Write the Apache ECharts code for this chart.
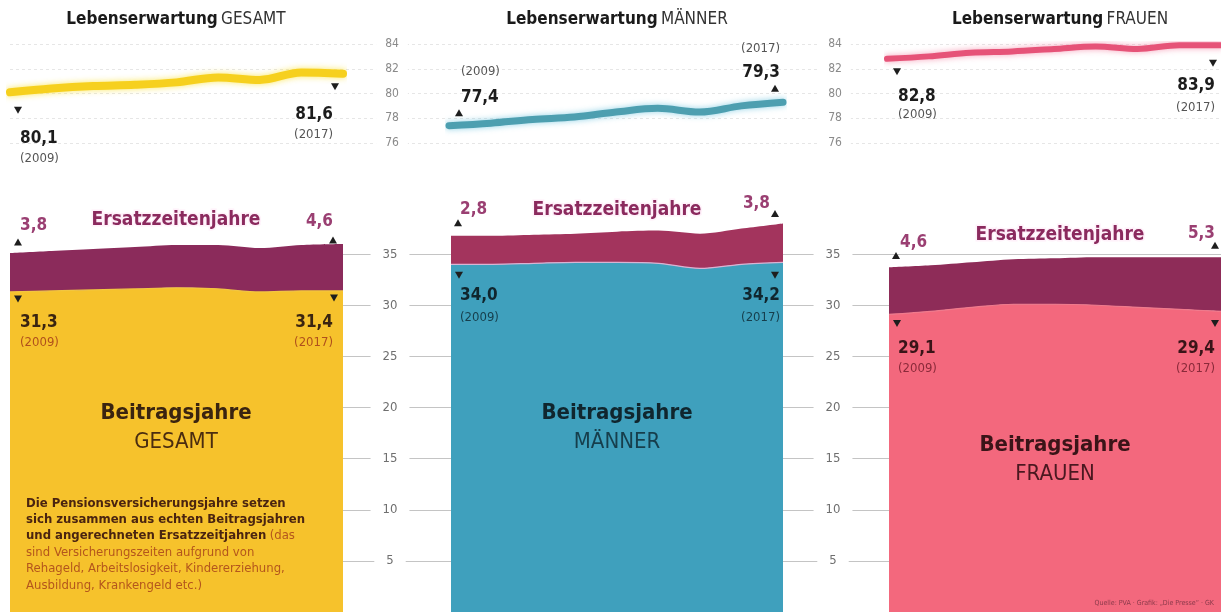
<!DOCTYPE html>
<html>
<head>
<meta charset="utf-8">
<script src="https://cdn.jsdelivr.net/npm/echarts@6/dist/echarts.min.js"></script>
<style>
  html, body { margin: 0; padding: 0; background: #fff; }
  #main { width: 1221px; height: 612px; }
</style>
</head>
<body>
<div id="main"></div>
<script>
const FONT = "'Liberation Sans Narrow', 'DejaVu Sans Condensed', 'Roboto', sans-serif";

// --- data ---
const years = ['2009', '2010', '2011', '2012', '2013', '2014', '2015', '2016', '2017'];
const lifeGesamt = [80.1, 80.4, 80.6, 80.7, 80.9, 81.3, 81.1, 81.7, 81.6];
const lifeMaenner = [77.4, 77.6, 77.9, 78.1, 78.5, 78.8, 78.5, 79.0, 79.3];
const lifeFrauen = [82.8, 83.0, 83.3, 83.4, 83.6, 83.8, 83.6, 83.9, 83.9];
const beitragGesamt = [31.3, 31.4, 31.5, 31.6, 31.7, 31.6, 31.3, 31.4, 31.4];
const ersatzGesamt = [3.8, 3.9, 4.0, 4.1, 4.2, 4.3, 4.3, 4.5, 4.6];
const beitragMaenner = [34.0, 34.0, 34.1, 34.2, 34.2, 34.1, 33.6, 34.0, 34.2];
const ersatzMaenner = [2.8, 2.8, 2.8, 2.8, 3.0, 3.2, 3.4, 3.5, 3.8];
const beitragFrauen = [29.1, 29.4, 29.8, 30.1, 30.1, 30.0, 29.8, 29.6, 29.4];
const ersatzFrauen = [4.6, 4.5, 4.4, 4.4, 4.5, 4.7, 4.9, 5.1, 5.3];
const lifeTicks = { min: 76, max: 84, step: 2 };
const yearsTicks = { min: 0, max: 40, step: 5 };
const groups = ['GESAMT', 'MÄNNER', 'FRAUEN'];

// --- layout / styles per panel ---
const panels = [
  { name: groups[0], life: lifeGesamt, beitrag: beitragGesamt, ersatz: ersatzGesamt,
    left: 10, width: 333, topLeft: 10, line: '#f6d01e', lineW: 8, glow: 'rgba(250,228,70,0.85)',
    fill: '#f6c22c', top: '#8b2b5b', edge: '#f2c640',
    valColor: '#3a2410', yrColor: '#b0501c', labelMargin: null },
  { name: groups[1], life: lifeMaenner, beitrag: beitragMaenner, ersatz: ersatzMaenner,
    left: 451, width: 332, topLeft: 449, line: '#4d9fb0', lineW: 7, glow: 'rgba(120,200,225,0.8)',
    fill: '#3fa0bd', top: '#a3345d', edge: '#d9b3d3',
    valColor: '#10262e', yrColor: '#163e4c', labelMargin: 392 },
  { name: groups[2], life: lifeFrauen, beitrag: beitragFrauen, ersatz: ersatzFrauen,
    left: 889, width: 332, topLeft: 887, line: '#e65378', lineW: 6, glow: 'rgba(245,140,170,0.8)',
    fill: '#f3687d', top: '#8e2c58', edge: '#f07a8c',
    valColor: '#3a1418', yrColor: '#8a2a3a', labelMargin: 835 }
];

const TOP_Y = 44, TOP_H = 99;
const BOT_TOP = 203;

const chart = echarts.init(document.getElementById('main'), null, { renderer: 'canvas' });

const grid = [], xAxis = [], yAxis = [], series = [];

panels.forEach((p) => {
  grid.push({ left: p.topLeft, width: Math.min(p.width + (p.left - p.topLeft), 1221 - p.topLeft), top: TOP_Y, height: TOP_H });
});
panels.forEach((p) => {
  grid.push({ left: p.left, width: Math.min(p.width, 1221 - p.left), top: BOT_TOP, bottom: 0 });
});
grid.push({ left: 10, right: 0, top: TOP_Y, height: TOP_H });   // 6: top gridlines
grid.push({ left: 343, right: 0, top: BOT_TOP, bottom: 0 });     // 7: bottom gridlines

const hiddenX = (gi) => ({
  gridIndex: gi, type: 'category', data: years, boundaryGap: false, show: false
});

panels.forEach((p, k) => {
  xAxis.push(hiddenX(k));
  yAxis.push({
    gridIndex: k, type: 'value', min: lifeTicks.min, max: lifeTicks.max, interval: lifeTicks.step,
    z: 1, splitLine: { show: false }, axisLine: { show: false }, axisTick: { show: false },
    axisLabel: {
      show: p.labelMargin !== null, margin: p.labelMargin !== null ? p.topLeft - p.labelMargin : 8,
      align: 'center', color: '#8a8a8a', fontFamily: FONT, fontSize: 12,
      backgroundColor: '#fff', padding: [2, 9]
    }
  });
});
panels.forEach((p, k) => {
  xAxis.push(hiddenX(3 + k));
  yAxis.push({
    gridIndex: 3 + k, type: 'value', min: yearsTicks.min, max: yearsTicks.max, interval: yearsTicks.step,
    z: 1, splitLine: { show: false }, axisLine: { show: false }, axisTick: { show: false },
    axisLabel: {
      show: p.labelMargin !== null, margin: p.labelMargin !== null ? p.left - p.labelMargin + 2 : 8,
      showMinLabel: false, showMaxLabel: false,
      align: 'center', color: '#6f6f6f', fontFamily: FONT, fontSize: 13,
      backgroundColor: '#fff', padding: [2, 12]
    }
  });
});
xAxis.push({ gridIndex: 6, type: 'value', show: false });
yAxis.push({
  gridIndex: 6, type: 'value', min: lifeTicks.min, max: lifeTicks.max, interval: lifeTicks.step, z: 0,
  axisLine: { show: false }, axisTick: { show: false }, axisLabel: { show: false },
  splitLine: { lineStyle: { color: '#e6e6e6', type: [3, 3], width: 1 } }
});
xAxis.push({ gridIndex: 7, type: 'value', show: false });
yAxis.push({
  gridIndex: 7, type: 'value', min: yearsTicks.min, max: yearsTicks.max, interval: yearsTicks.step, z: 0,
  axisLine: { show: false }, axisTick: { show: false }, axisLabel: { show: false },
  splitLine: { showMinLine: false, showMaxLine: false, lineStyle: { color: '#c4c4c4', width: 1 } }
});

panels.forEach((p, k) => {
  series.push({
    name: 'Lebenserwartung ' + p.name, type: 'line', xAxisIndex: k, yAxisIndex: k,
    data: p.life, smooth: 0.35, symbol: 'none', z: 3,
    lineStyle: { color: p.line, width: p.lineW, shadowBlur: 6, shadowColor: p.glow, cap: 'round' }
  });
});
panels.forEach((p, k) => {
  series.push({
    name: 'Beitragsjahre ' + p.name, type: 'line', xAxisIndex: 3 + k, yAxisIndex: 3 + k,
    stack: 'jahre' + k, data: p.beitrag, smooth: 0.3, symbol: 'none', z: 2,
    lineStyle: { color: p.edge, width: 1.2 },
    areaStyle: { color: p.fill, opacity: 1 }
  });
  series.push({
    name: 'Ersatzzeitenjahre ' + p.name, type: 'line', xAxisIndex: 3 + k, yAxisIndex: 3 + k,
    stack: 'jahre' + k, data: p.ersatz, smooth: 0.3, symbol: 'none', z: 2,
    lineStyle: { width: 0 },
    areaStyle: { color: p.top, opacity: 1 }
  });
});

chart.setOption({
  animation: false,
  backgroundColor: '#fff',
  grid, xAxis, yAxis, series
});

// --- annotations, placed through the axes ---
const fmt = (v) => v.toFixed(1).replace('.', ',');
const last = years.length - 1;
const sumAt = (p, i) => p.beitrag[i] + p.ersatz[i];

const pointers = [
  // Lebenserwartung
  { p: 0, g: 'top', i: 0, v: (p) => p.life[0], t: (p) => p.life[0], dir: 'down', tri: [8, 18], val: 46, yr: 66, align: 'left', dx: 10, year: true, vc: '#1c1c1c', yc: '#555' },
  { p: 0, g: 'top', i: last, v: (p) => p.life[last], t: (p) => p.life[last], dir: 'down', tri: [-8, 13], val: 41, yr: 61, align: 'right', dx: -10, year: true, vc: '#1c1c1c', yc: '#555' },
  { p: 1, g: 'top', i: 0, v: (p) => p.life[0], t: (p) => p.life[0], dir: 'up', tri: [10, -13], val: -28, yr: -54, align: 'left', dx: 12, year: true, vc: '#1c1c1c', yc: '#555' },
  { p: 1, g: 'top', i: last, v: (p) => p.life[last], t: (p) => p.life[last], dir: 'up', tri: [-8, -14], val: -30, yr: -54, align: 'right', dx: -3, year: true, vc: '#1c1c1c', yc: '#555' },
  { p: 2, g: 'top', i: 0, v: (p) => p.life[0], t: (p) => p.life[0], dir: 'down', tri: [10, 13], val: 38, yr: 56, align: 'left', dx: 11, year: true, vc: '#1c1c1c', yc: '#555' },
  { p: 2, g: 'top', i: last, v: (p) => p.life[last], t: (p) => p.life[last], dir: 'down', tri: [-8, 18], val: 40, yr: 62, align: 'right', dx: -6, year: true, vc: '#1c1c1c', yc: '#555' },
  // Beitragsjahre
  { p: 0, g: 'bot', i: 0, v: (p) => p.beitrag[0], t: (p) => p.beitrag[0], dir: 'down', tri: [8, 7], val: 31, yr: 51, align: 'left', dx: 10, year: true },
  { p: 0, g: 'bot', i: last, v: (p) => p.beitrag[last], t: (p) => p.beitrag[last], dir: 'down', tri: [-9, 7], val: 32, yr: 52, align: 'right', dx: -10, year: true },
  { p: 1, g: 'bot', i: 0, v: (p) => p.beitrag[0], t: (p) => p.beitrag[0], dir: 'down', tri: [8, 11], val: 31, yr: 53, align: 'left', dx: 9, year: true },
  { p: 1, g: 'bot', i: last, v: (p) => p.beitrag[last], t: (p) => p.beitrag[last], dir: 'down', tri: [-8, 13], val: 33, yr: 55, align: 'right', dx: -3, year: true },
  { p: 2, g: 'bot', i: 0, v: (p) => p.beitrag[0], t: (p) => p.beitrag[0], dir: 'down', tri: [8, 9], val: 34, yr: 54, align: 'left', dx: 9, year: true },
  { p: 2, g: 'bot', i: last, v: (p) => p.beitrag[last], t: (p) => p.beitrag[last], dir: 'down', tri: [-6, 12], val: 37, yr: 57, align: 'right', dx: -6, year: true },
  // Ersatzzeitenjahre
  { p: 0, g: 'bot', i: 0, v: (p) => sumAt(p, 0), t: (p) => p.ersatz[0], dir: 'up', tri: [8, -11], val: -28, align: 'left', dx: 10, year: false, vc: '#9a3f72' },
  { p: 0, g: 'bot', i: last, v: (p) => sumAt(p, last), t: (p) => p.ersatz[last], dir: 'up', tri: [-10, -4], val: -22, align: 'right', dx: -10, year: false, vc: '#9a3f72' },
  { p: 1, g: 'bot', i: 0, v: (p) => sumAt(p, 0), t: (p) => p.ersatz[0], dir: 'up', tri: [7, -13], val: -26, align: 'left', dx: 9, year: false, vc: '#9a3f72' },
  { p: 1, g: 'bot', i: last, v: (p) => sumAt(p, last), t: (p) => p.ersatz[last], dir: 'up', tri: [-8, -10], val: -20, align: 'right', dx: -13, year: false, vc: '#9a3f72' },
  { p: 2, g: 'bot', i: 0, v: (p) => sumAt(p, 0), t: (p) => p.ersatz[0], dir: 'up', tri: [7, -12], val: -25, align: 'left', dx: 11, year: false, vc: '#9a3f72' },
  { p: 2, g: 'bot', i: last, v: (p) => sumAt(p, last), t: (p) => p.ersatz[last], dir: 'up', tri: [-6, -12], val: -24, align: 'right', dx: -6, year: false, vc: '#9a3f72' }
];

const graphic = [];
const DOWN = [[-4, -3.5], [4, -3.5], [0, 3.5]];
const UP = [[-4, 3.5], [4, 3.5], [0, -3.5]];

pointers.forEach((a) => {
  const p = panels[a.p];
  const gi = a.g === 'top' ? a.p : 3 + a.p;
  const pt = chart.convertToPixel({ gridIndex: gi }, [a.i, a.v(p)]);
  graphic.push({
    type: 'polygon', x: pt[0] + a.tri[0], y: pt[1] + a.tri[1], z: 20,
    shape: { points: a.dir === 'down' ? DOWN : UP },
    style: { fill: '#1e1e1e' }
  });
  graphic.push({
    type: 'text', x: pt[0] + a.dx, y: pt[1] + a.val, z: 20,
    style: {
      text: fmt(a.t(p)), fontFamily: FONT, fontWeight: 'bold', fontSize: 17,
      fill: a.vc || p.valColor, align: a.align, verticalAlign: 'middle'
    }
  });
  if (a.year) {
    graphic.push({
      type: 'text', x: pt[0] + a.dx, y: pt[1] + a.yr, z: 20,
      style: {
        text: '(' + years[a.i] + ')', fontFamily: FONT, fontSize: 13,
        fill: a.yc || p.yrColor, align: a.align, verticalAlign: 'middle'
      }
    });
  }
});

// titles and labels
const centers = [176, 617, 1060];
panels.forEach((p, k) => {
  graphic.push({
    type: 'text', x: centers[k], y: 20, z: 20,
    style: {
      text: '{b|Lebenserwartung} {r|' + p.name + '}',
      align: 'center', verticalAlign: 'middle',
      rich: {
        b: { fontFamily: FONT, fontWeight: 'bold', fontSize: 17, fill: '#1a1a1a' },
        r: { fontFamily: FONT, fontSize: 17, fill: '#333' }
      }
    }
  });
});
const ersatzY = [220, 210, 235];
panels.forEach((p, k) => {
  graphic.push({
    type: 'text', x: centers[k], y: ersatzY[k], z: 20,
    style: {
      text: 'Ersatzzeitenjahre', fontFamily: FONT, fontWeight: 'bold', fontSize: 19,
      fill: '#8b2a5e', stroke: 'rgba(255,240,250,0.9)', lineWidth: 3,
      align: 'center', verticalAlign: 'middle'
    }
  });
});
const beitragY = [413, 413, 445];
const beitragX = [176, 617, 1055];
const beitragC = ['#3a2410', '#10262e', '#3a1418'];
const groupC = ['#4a2c10', '#163e4c', '#4a1820'];
panels.forEach((p, k) => {
  graphic.push({
    type: 'text', x: beitragX[k], y: beitragY[k], z: 20,
    style: {
      text: 'Beitragsjahre', fontFamily: FONT, fontWeight: 'bold', fontSize: 22,
      fill: beitragC[k], align: 'center', verticalAlign: 'middle'
    }
  });
  graphic.push({
    type: 'text', x: beitragX[k], y: beitragY[k] + 29, z: 20,
    style: {
      text: p.name, fontFamily: FONT, fontSize: 22,
      fill: groupC[k], align: 'center', verticalAlign: 'middle'
    }
  });
});

const noteLines = [
  '{b|Die Pensionsversicherungsjahre setzen}',
  '{b|sich zusammen aus echten Beitragsjahren}',
  '{b|und angerechneten Ersatzzeitjahren} {r|(das}',
  '{r|sind Versicherungszeiten aufgrund von}',
  '{r|Rehageld, Arbeitslosigkeit, Kindererziehung,}',
  '{r|Ausbildung, Krankengeld etc.)}'
];
graphic.push({
  type: 'text', x: 26, y: 495, z: 20,
  style: {
    text: noteLines.join('\n'),
    align: 'left', verticalAlign: 'top',
    rich: {
      b: { fontFamily: FONT, fontWeight: 'bold', fontSize: 13, fill: '#4a2410', lineHeight: 16.4 },
      r: { fontFamily: FONT, fontSize: 13, fill: '#b4561c', lineHeight: 16.4 }
    }
  }
});
graphic.push({
  type: 'text', x: 1214, y: 603, z: 20,
  style: {
    text: 'Quelle: PVA · Grafik: „Die Presse“ · GK', fontFamily: FONT, fontSize: 7,
    fill: '#8a3a4a', align: 'right', verticalAlign: 'middle'
  }
});

chart.setOption({ graphic });
</script>
</body>
</html>
